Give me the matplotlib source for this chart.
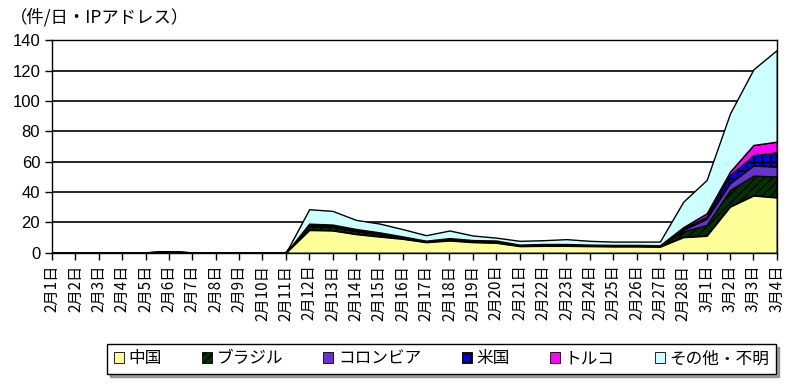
import matplotlib
matplotlib.use("Agg")
import matplotlib.pyplot as plt
from matplotlib.patches import Patch
import numpy as np

plt.rcParams['font.family'] = ['Noto Sans CJK JP', 'DejaVu Sans']

dates = ["2月%d日" % d for d in range(1, 29)] + ["3月%d日" % d for d in range(1, 5)]

# 件/日・IPアドレス
china    = [0, 0, 0, 0, 0, 0.5, 0, 0, 0, 0, 0,
            15, 14.7, 12.3, 10.7, 9.2, 7, 8.1, 7, 6.6, 4.4, 4.6, 4.6, 4.4, 4.2, 4.2, 4,
            10.3, 11.2, 30.4, 37.7, 36.4]
brazil   = [0, 0, 0, 0, 0, 0.2, 0, 0, 0, 0, 0,
            2.6, 2.4, 2.1, 1.7, 1.0, 0.6, 1.0, 0.8, 0.9, 0.6, 0.7, 0.7, 0.6, 0.6, 0.6, 0.6,
            3.7, 7.2, 11, 13.1, 13.8]
colombia = [0, 0, 0, 0, 0, 0, 0, 0, 0, 0, 0,
            0.7, 0.7, 0.6, 0.5, 0.3, 0.2, 0.3, 0.3, 0.3, 0.2, 0.2, 0.2, 0.2, 0.2, 0.2, 0.2,
            1.1, 4, 4.4, 6.6, 6.5]
usa      = [0, 0, 0, 0, 0, 0, 0, 0, 0, 0, 0,
            0.7, 0.6, 0.6, 0.5, 0.2, 0.1, 0.2, 0.2, 0.2, 0.1, 0.2, 0.2, 0.1, 0.1, 0.1, 0.1,
            0.9, 1.5, 5.5, 7, 9.5]
turkey   = [0, 0, 0, 0, 0, 0, 0, 0, 0, 0, 0,
            0.2, 0.2, 0.1, 0.1, 0.1, 0.1, 0.1, 0.1, 0.1, 0.1, 0.1, 0.1, 0.1, 0.1, 0.1, 0.1,
            0.9, 2.1, 2.2, 6.6, 7]
other    = [0, 0, 0, 0, 0, 0.3, 0, 0, 0, 0, 0,
            9.5, 9.0, 6.0, 5.8, 4.8, 3.6, 5.0, 3.0, 1.9, 2.5, 2.5, 3.2, 2.5, 2.2, 2.2, 2.4,
            16.8, 22, 38.3, 49.8, 60.3]

names = ["中国", "ブラジル", "コロンビア", "米国", "トルコ", "その他・不明"]
colors = ["#FFFF99", "#003300", "#6633CC", "#0000FF", "#FF00FF", "#CCFFFF"]
hatches = [None, "////", None, "++", None, None]

x = np.arange(len(dates))

fig = plt.figure(figsize=(8, 3.86), dpi=100)
ax = fig.add_axes([0.065, 0.345, 0.906, 0.551])

polys = ax.stackplot(x, china, brazil, colombia, usa, turkey, other,
                     colors=colors, edgecolor="black", linewidth=1)
for p, h in zip(polys, hatches):
    if h:
        p.set_hatch(h)

ax.set_xlim(0, len(dates) - 1)
ax.set_ylim(0, 140)
ax.set_yticks(range(0, 141, 20))
ax.set_yticklabels([str(v) for v in range(0, 141, 20)], family="Liberation Sans", fontsize=12)
ax.set_xticks(x)
ax.set_xticklabels(dates, rotation=90, fontsize=11, va="top")
ax.tick_params(direction="out", length=5, color="black", width=1)
ax.yaxis.grid(True, color="black", linewidth=1.2)
ax.set_axisbelow(True)
for s in ax.spines.values():
    s.set_color("black")
    s.set_linewidth(1)

fig.text(0.012, 0.955, "（件/日・IPアドレス）", fontsize=12.5, va="center", ha="left")

handles = [Patch(facecolor=c, edgecolor="black", hatch=h, linewidth=0.6) for c, h in zip(colors, hatches)]
leg = fig.legend(handles, names, loc="center", bbox_to_anchor=(0.552, 0.07), ncol=6,
                 fontsize=12, handlelength=0.6, handleheight=0.6, handletextpad=0.3,
                 columnspacing=2.4, frameon=True, fancybox=False, shadow=True,
                 borderpad=0.4)
leg.get_frame().set_edgecolor("black")
leg.get_frame().set_linewidth(1)

fig.savefig("out.png", dpi=100)
